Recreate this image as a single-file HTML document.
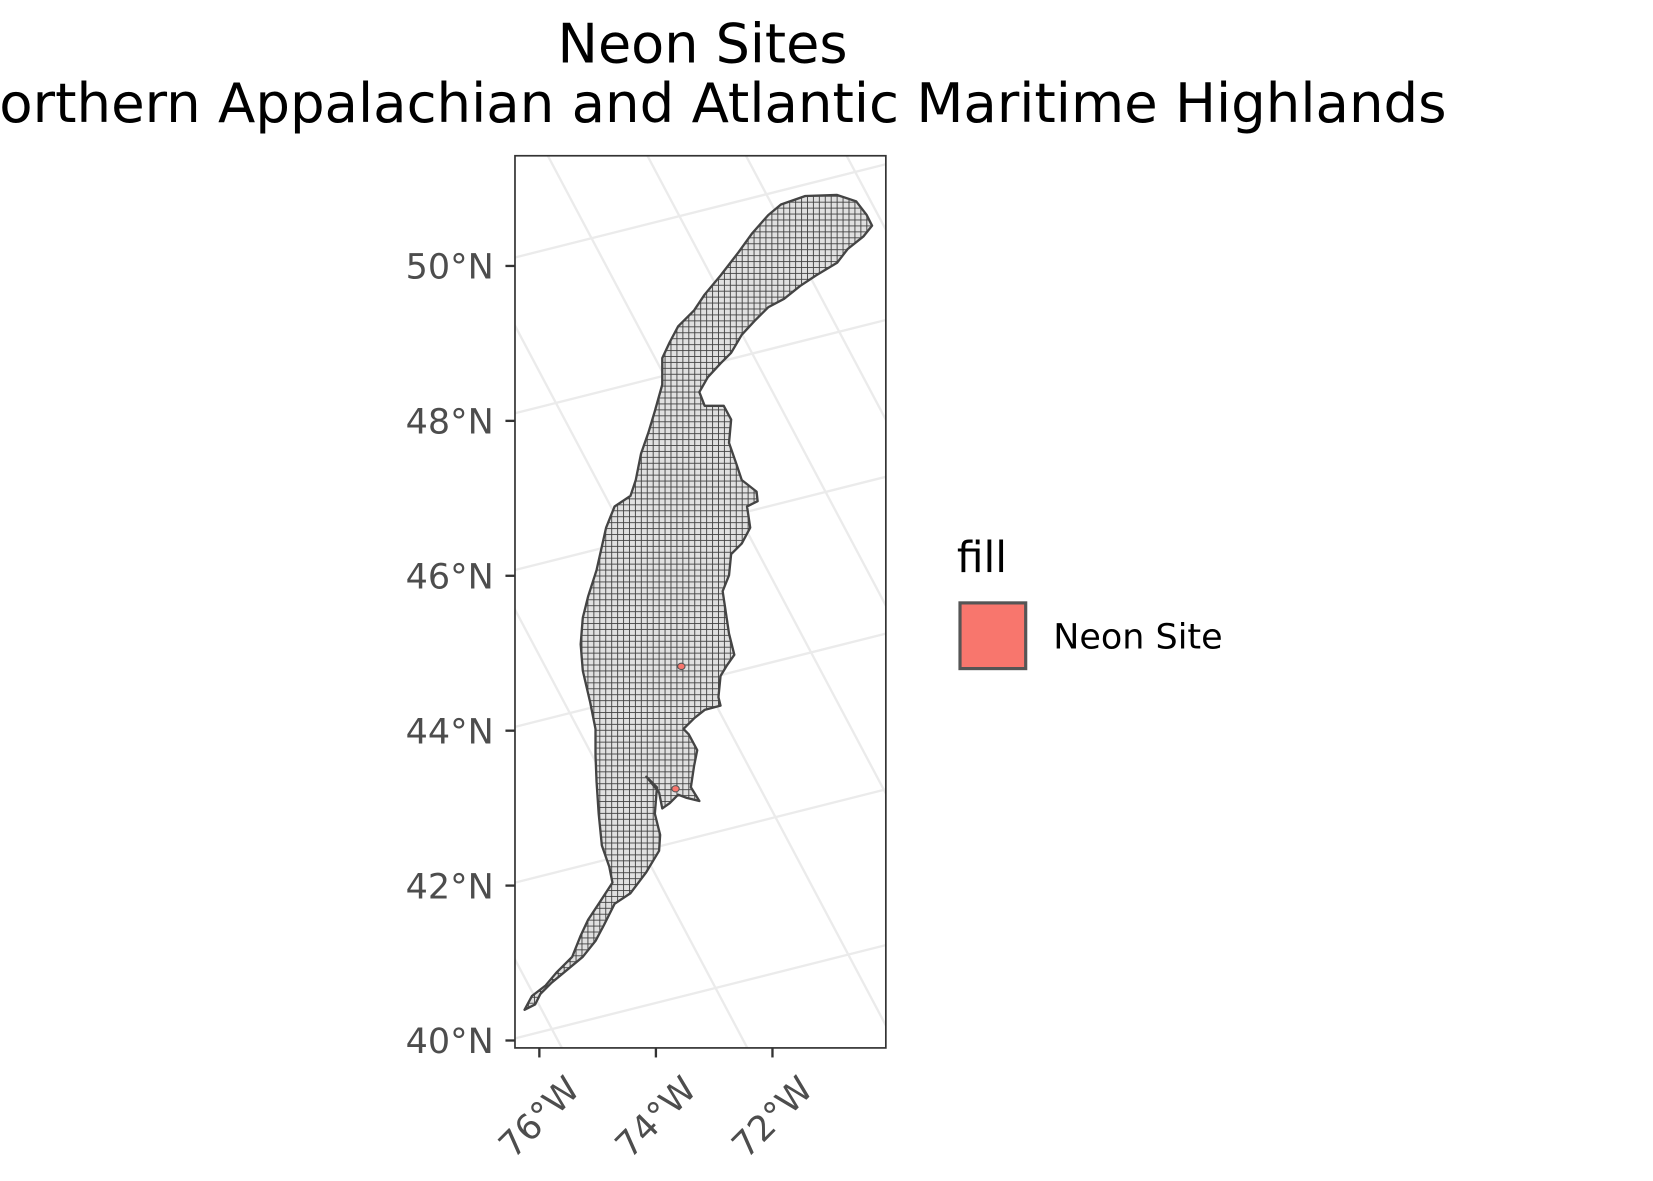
<!DOCTYPE html>
<html><head><meta charset="utf-8"><style>
html,body{margin:0;padding:0;background:#fff;}
svg{display:block;font-family:"DejaVu Sans","Liberation Sans",sans-serif;}
</style></head><body>
<svg id="chart" width="1653" height="1181" viewBox="0 0 1560 1114.6" xmlns="http://www.w3.org/2000/svg">
<defs>
<pattern id="cells" width="5.6" height="5.6" patternUnits="userSpaceOnUse">
<rect width="5.6" height="5.6" fill="#e0e0e0"/>
<path d="M0 0H5.6M0 0V5.6" stroke="#404040" stroke-width="1.7"/>
</pattern>
<clipPath id="pclip"><rect x="486" y="147" width="350" height="842"/></clipPath>
</defs>
<text x="663" y="59" font-size="51" text-anchor="middle" fill="#000">Neon Sites</text>
<text x="663" y="115" font-size="51.5" text-anchor="middle" fill="#000">Northern Appalachian and Atlantic Maritime Highlands</text>
<rect x="486" y="147" width="350" height="842" fill="#fff"/>
<g id="grid" clip-path="url(#pclip)"></g>
<g id="map" clip-path="url(#pclip)"></g>
<rect x="486" y="147" width="350" height="842" fill="none" stroke="#333" stroke-width="1.6"/>
<g id="axes"></g>
<g>
<text x="903" y="540" font-size="40" fill="#000">fill</text>
<rect x="906" y="569" width="62" height="62" fill="#F8766D" stroke="#555" stroke-width="3"/>
<text x="994" y="612" font-size="33" fill="#000">Neon Site</text>
</g>
</svg>
<script>
const yTickLats = [50, 48, 46, 44, 42, 40];
const yTickLabels = ["50°N","48°N","46°N","44°N","42°N","40°N"];
const xTickLons = [-76, -74, -72];
const xTickLabels = ["76°W","74°W","72°W"];
const siteLons = [-73.6, -73.7];
const siteLats = [44.83, 43.25];
const NS = "http://www.w3.org/2000/svg";
function yScale(lat){ return 982 + (lat - 40) * (251 - 982) / 10; }
function xScale(lon){ return 509 + (lon + 76) * (729 - 509) / 4; }
function mk(tag, attrs, parent){ const e=document.createElementNS(NS,tag); for(const k in attrs) e.setAttribute(k,attrs[k]); parent.appendChild(e); return e; }
const grid=document.getElementById('grid');
[243,390,538,686,833,980,1128].forEach(function(y0){
  const l=mk('line',{x1:486,y1:y0,x2:836,y2:y0-88,stroke:'#ebebeb','stroke-width':2.2},grid);
  
  
});
[84,259,401,517,611,704,799].forEach(function(x0){
  const l=mk('line',{x1:x0,y1:147,x2:x0+0.53*842,y2:989,stroke:'#ebebeb','stroke-width':2.2},grid);
  
  
});
const map=document.getElementById('map');
const pts="737,193 760,185 790,184 808,190 818,203 823,213 815,223 800,235 790,248 770,260 755,270 740,282 725,290 712,303 700,316 690,333 680,343 668,356 660,370 665,383 683,383 690,396 688,418 695,438 700,453 714,464 715,473 705,478 708,498 700,513 690,523 688,543 682,558 685,578 688,598 693,618 686,628 680,638 678,658 680,666 665,670 655,678 645,688 650,693 658,708 655,723 652,743 660,756 648,753 640,750 632,758 625,763 622,748 610,733 620,743 618,768 623,788 622,803 610,823 595,843 580,853 570,873 562,888 550,903 532,918 520,928 510,938 505,948 495,953 502,940 515,930 525,918 540,903 548,883 555,868 565,853 578,833 575,818 568,798 565,768 563,738 562,713 562,688 557,663 550,633 548,608 550,583 555,563 563,538 572,498 580,478 595,468 600,453 605,428 612,408 618,388 625,363 625,338 632,323 640,308 655,293 665,278 680,260 697,238 710,220 725,203";
const poly=mk('polygon',{points:pts,fill:'url(#cells)',stroke:'#444','stroke-width':2.2,'stroke-linejoin':'round'},map);


for(let i=0;i<siteLons.length;i++){
  const c=mk('ellipse',{cx:xScale(siteLons[i])+2,cy:yScale(siteLats[i]),rx:3.5,ry:3,fill:'#F8766D',stroke:'#555','stroke-width':1},map);
  
  
}
const axes=document.getElementById('axes');
yTickLats.forEach(function(lat,i){
  const y=yScale(lat);
  const t=mk('line',{x1:477,y1:y,x2:486,y2:y,stroke:'#333','stroke-width':2.2},axes);
  
  
  const tx=mk('text',{x:466,y:y+12,'font-size':33,'text-anchor':'end',fill:'#4d4d4d'},axes);
  tx.textContent=yTickLabels[i];
  
  
});
xTickLons.forEach(function(lon,i){
  const x=xScale(lon);
  const t=mk('line',{x1:x,y1:989,x2:x,y2:998,stroke:'#333','stroke-width':2.2},axes);
  
  
  const tx=mk('text',{x:0,y:0,'font-size':33,'text-anchor':'end',fill:'#4d4d4d',transform:'translate('+(x+40)+',1030) rotate(-45)'},axes);
  tx.textContent=xTickLabels[i];
  
  
});
</script>
</body></html>
